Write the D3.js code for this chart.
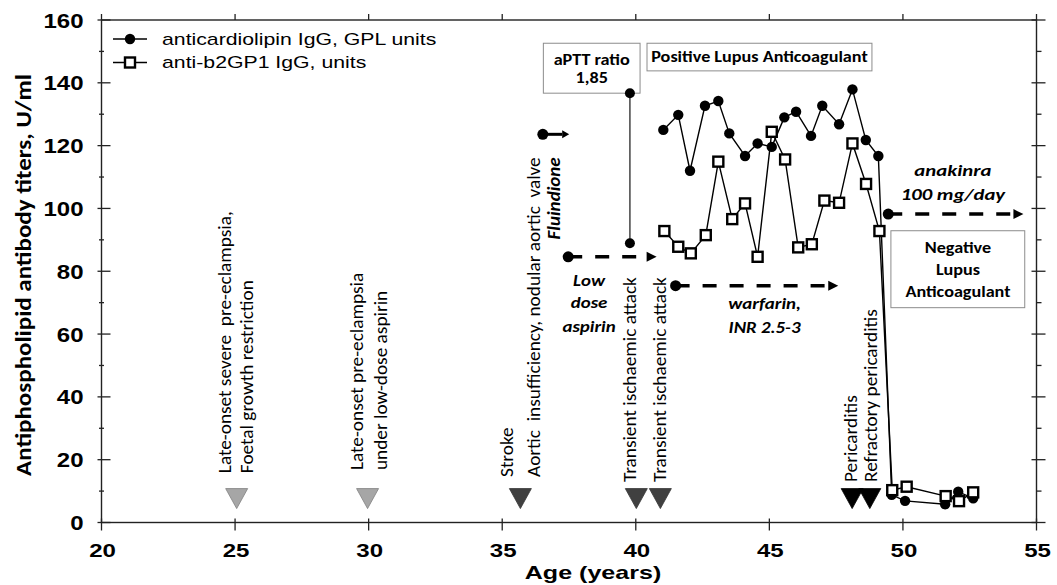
<!DOCTYPE html>
<html>
<head>
<meta charset="utf-8">
<script src="https://cdn.jsdelivr.net/npm/d3@7"></script>
<style>
  html, body { margin: 0; padding: 0; background: #fff; }
  svg { display: block; }
  text { white-space: pre; }
</style>
</head>
<body>
<svg id="chart" width="1057" height="585"></svg>
<script>
"use strict";

// ---- data (age in years, titer in U/ml) ----

var aclAge = [41.03, 41.59, 42.03, 42.59, 43.09, 43.50, 44.09, 44.56, 45.09, 45.56, 46.00,
              46.56, 46.98, 47.61, 48.11, 48.61, 49.08, 49.58, 50.08, 51.58, 52.07, 52.63];
var aclVal = [125.0, 129.8, 112.0, 132.7, 134.2, 123.9, 116.7, 120.7, 119.6, 129.0, 130.8,
              123.1, 132.7, 126.8, 137.9, 121.8, 116.7, 8.8, 6.9, 5.8, 9.8, 7.7];

var b2Age = [41.07, 41.59, 42.06, 42.62, 43.09, 43.61, 44.09, 44.56, 45.09, 45.59, 46.08,
             46.59, 47.06, 47.61, 48.11, 48.62, 49.12, 49.60, 50.14, 51.60, 52.10, 52.63];
var b2Val = [92.8, 87.8, 85.7, 91.5, 114.9, 96.6, 101.6, 84.6, 124.4, 115.6, 87.6,
             88.6, 102.5, 101.8, 120.7, 107.8, 92.8, 10.3, 11.4, 8.4, 6.8, 9.6];

// aPTT ratio measurement (two points joined by a vertical line)
var apttAge = [39.78, 39.78];
var apttVal = [88.9, 136.7];

var seriesNames = ["anticardiolipin IgG, GPL units", "anti-b2GP1 IgG, units"];

var xTicks = [20, 25, 30, 35, 40, 45, 50, 55];
var yTicks = [0, 20, 40, 60, 80, 100, 120, 140, 160];

// clinical events, drawn as down triangles
var eventAge   = [25.06, 29.96, 35.68, 40.02, 40.92, 48.10, 48.76];
var eventShade = ["light", "light", "dark", "dark", "dark", "black", "black"];
var eventText  = [
    ["Late-onset severe  pre-eclampsia,", "Foetal growth restriction"],
    ["Late-onset pre-eclampsia", "under low-dose aspirin"],
    ["Stroke", "Aortic  insufficiency, nodular aortic  valve"],
    ["Transient ischaemic attack"],
    ["Transient ischaemic attack"],
    ["Pericarditis"],
    ["Refractory pericarditis"]
];
var eventTextAge  = [[24.85, 25.68], [29.79, 30.67], [35.40, 36.41], [40.0], [41.12], [48.27], [49.02]];
var eventTextFrom = [15.7, 16.7, 14.5, 12.9, 12.9, 12.9, 12.9];

// treatments, drawn as arrows
var treatStart = [36.52, 37.47, 41.49, 49.45];
var treatEnd   = [37.47, 40.78, 47.58, 54.51];
var treatLevel = [123.6, 84.6, 75.4, 98.2];
var treatDash  = [false, true, true, true];

var noteText = [["Low", "dose", "aspirin"], ["warfarin,", "INR 2.5-3"], ["anakinra", "100 mg/day"]];
var noteAge  = [38.25, 44.82, 51.87];
var noteBase = [[75.4, 68.2, 60.8], [68.0, 60.3], [110.4, 102.7]];

// boxed notes
var boxText = [["aPTT ratio", "1,85"], ["Positive Lupus Anticoagulant"], ["Negative", "Lupus", "Anticoagulant"]];
var boxX0   = [36.54, 40.42, 49.55];
var boxX1   = [40.16, 48.84, 54.56];
var boxTop  = [152.6, 152.6, 92.9];
var boxBot  = [136.7, 143.8, 68.4];
var boxMid  = [38.35, 44.63, 52.06];
var boxBase = [[145.7, 139.8], [146.5], [85.7, 78.8, 71.9]];


var ARIAL = "'Liberation Sans', Arial, sans-serif";
var CALI  = "Carlito, Lato, 'Open Sans', sans-serif";

var svg = d3.select("#chart");

var x = d3.scaleLinear().domain([20, 55]).range([101.5, 1036.5]);
var y = d3.scaleLinear().domain([0, 160]).range([522.5, 20]);


function label(parent, px, py, str, o) {
    var tr = "translate(" + px + "," + py + ") scale(" + (o.sx || 1) + ",1)";
    if (o.rot) tr += " rotate(-90)";
    return parent.append("text")
        .attr("transform", tr)
        .attr("text-anchor", o.anchor || "start")
        .style("font-family", o.font || ARIAL)
        .style("font-size", o.size + "px")
        .style("font-weight", o.bold ? "bold" : "normal")
        .style("font-style", o.italic ? "italic" : "normal")
        .attr("fill", "#000")
        .text(str);
}


// ---- frame and ticks ----

var frame = svg.append("g");

frame.append("rect")
    .attr("x", x(20))
    .attr("y", y(160))
    .attr("width", x(55) - x(20))
    .attr("height", y(0) - y(160))
    .attr("fill", "none")
    .attr("stroke", "#222")
    .attr("stroke-width", 1.4);

var yMinor = y.ticks(16).filter(function (v) { return yTicks.indexOf(v) < 0; });

yTicks.forEach(function (v) {
    frame.append("line").attr("x1", x(20) - 4).attr("x2", x(20) + 9).attr("y1", y(v)).attr("y2", y(v));
    frame.append("line").attr("x1", x(55) - 5).attr("x2", x(55) + 9).attr("y1", y(v)).attr("y2", y(v));
    label(frame, x(20) - 18, y(v) + 7.5, v, { size: 20, bold: true, anchor: "end", sx: 1.2 });
});

yMinor.forEach(function (v) {
    frame.append("line").attr("x1", x(20) - 2.5).attr("x2", x(20) + 2.5).attr("y1", y(v)).attr("y2", y(v));
    frame.append("line").attr("x1", x(55)).attr("x2", x(55) + 5).attr("y1", y(v)).attr("y2", y(v));
});

xTicks.forEach(function (v) {
    frame.append("line").attr("x1", x(v)).attr("x2", x(v)).attr("y1", y(0) - 4).attr("y2", y(0) + 8);
    frame.append("line").attr("x1", x(v)).attr("x2", x(v)).attr("y1", y(160) - 6).attr("y2", y(160));
    label(frame, x(v) + 1, 557, v, { size: 18.5, bold: true, anchor: "middle", sx: 1.3 });
});

frame.selectAll("line").attr("stroke", "#222").attr("stroke-width", 1.3);

label(frame, 593, 579, "Age (years)", { size: 19, bold: true, anchor: "middle", sx: 1.32 });
label(frame, 31, 275, "Antiphospholipid antibody titers, U/ml",
      { size: 25, bold: true, anchor: "middle", rot: true, font: CALI, sx: 0.85 });


// ---- clinical events ----

var shade = { light: ["#a6a6a6", "#7f7f7f"], dark: ["#404040", "#333"], black: ["#000", "#000"] };
var ev = svg.append("g");

eventAge.forEach(function (a, i) {
    ev.append("path")
        .attr("d", "M-11,0L11,0L0,20Z")
        .attr("transform", "translate(" + x(a) + "," + y(10.8) + ")")
        .attr("fill", shade[eventShade[i]][0])
        .attr("stroke", shade[eventShade[i]][1])
        .attr("stroke-width", 0.8);

    eventText[i].forEach(function (s, j) {
        label(ev, x(eventTextAge[i][j]), y(eventTextFrom[i]), s,
              { size: 19.3, rot: true, font: CALI });
    });
});


// ---- treatments ----

var tr = svg.append("g");

treatStart.forEach(function (a, i) {
    var x0 = x(a), x1 = x(treatEnd[i]), yy = y(treatLevel[i]);
    var head = treatDash[i] ? 10 : 6;

    tr.append("line")
        .attr("x1", x0).attr("x2", x1 - head)
        .attr("y1", yy).attr("y2", yy)
        .attr("stroke", "#000")
        .attr("stroke-width", treatDash[i] ? 3.5 : 3)
        .attr("stroke-dasharray", treatDash[i] ? "14,13" : null);

    tr.append("path")
        .attr("d", treatDash[i] ? "M0,-5L10,0L0,5Z" : "M0,-4L7,0L0,4Z")
        .attr("transform", "translate(" + (x1 - head) + "," + yy + ")")
        .attr("fill", "#000");

    tr.append("circle").attr("cx", x0).attr("cy", yy).attr("r", 5.5).attr("fill", "#000");
});

noteText.forEach(function (lines, i) {
    lines.forEach(function (s, j) {
        label(tr, x(noteAge[i]), y(noteBase[i][j]), s,
              { size: i == 2 ? 17 : 15.5, bold: true, italic: true, anchor: "middle", sx: 1.22, font: CALI });
    });
});

label(tr, x(37.16), y(103.2), "Fluindione",
      { size: 19, bold: true, italic: true, anchor: "middle", rot: true, font: CALI });


// ---- boxed notes ----

var bx = svg.append("g");

boxText.forEach(function (lines, i) {
    bx.append("rect")
        .attr("x", x(boxX0[i]))
        .attr("y", y(boxTop[i]))
        .attr("width", x(boxX1[i]) - x(boxX0[i]))
        .attr("height", y(boxBot[i]) - y(boxTop[i]))
        .attr("fill", "#fff")
        .attr("stroke", "#8c8c8c")
        .attr("stroke-width", 1);

    lines.forEach(function (s, j) {
        label(bx, x(boxMid[i]), y(boxBase[i][j]), s,
              { size: 15.4, bold: true, anchor: "middle", sx: 1.18, font: CALI });
    });
});


// ---- series ----

var line = d3.line()
    .x(function (d) { return x(d[0]); })
    .y(function (d) { return y(d[1]); });

var aclData  = d3.zip(aclAge, aclVal);
var b2Data   = d3.zip(b2Age, b2Val);
var apttData = d3.zip(apttAge, apttVal);

var plot = svg.append("g");

plot.append("path").datum(apttData).attr("d", line)
    .attr("fill", "none").attr("stroke", "#444").attr("stroke-width", 1.5);

plot.selectAll(".aptt").data(apttData).enter().append("circle")
    .attr("cx", function (d) { return x(d[0]); })
    .attr("cy", function (d) { return y(d[1]); })
    .attr("r", 5).attr("fill", "#000");

plot.append("path").datum(aclData).attr("d", line)
    .attr("fill", "none").attr("stroke", "#000").attr("stroke-width", 1.4);

plot.selectAll(".acl").data(aclData).enter().append("circle")
    .attr("cx", function (d) { return x(d[0]); })
    .attr("cy", function (d) { return y(d[1]); })
    .attr("r", 5.2).attr("fill", "#000");

plot.append("path").datum(b2Data).attr("d", line)
    .attr("fill", "none").attr("stroke", "#000").attr("stroke-width", 1.4);

plot.selectAll(".b2").data(b2Data).enter().append("rect")
    .attr("x", function (d) { return x(d[0]) - 5; })
    .attr("y", function (d) { return y(d[1]) - 5; })
    .attr("width", 10).attr("height", 10)
    .attr("fill", "#fff").attr("stroke", "#000").attr("stroke-width", 2.4);


// ---- legend ----

var lg = svg.append("g");

lg.append("line").attr("x1", 113).attr("x2", 147).attr("y1", 39).attr("y2", 39)
    .attr("stroke", "#000").attr("stroke-width", 1.3);
lg.append("circle").attr("cx", 130).attr("cy", 39).attr("r", 5.2).attr("fill", "#000");
label(lg, 162, 44.5, seriesNames[0], { size: 17, sx: 1.25 });

lg.append("line").attr("x1", 113).attr("x2", 147).attr("y1", 62.5).attr("y2", 62.5)
    .attr("stroke", "#000").attr("stroke-width", 1.3);
lg.append("rect").attr("x", 125).attr("y", 57.5).attr("width", 10).attr("height", 10)
    .attr("fill", "#fff").attr("stroke", "#000").attr("stroke-width", 2.4);
label(lg, 162, 68, seriesNames[1], { size: 17, sx: 1.25 });

</script>
</body>
</html>
